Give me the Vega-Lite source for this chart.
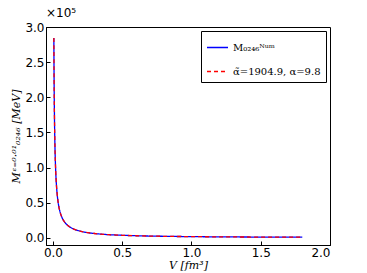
{
  "$schema": "https://vega.github.io/schema/vega-lite/v6.json",
  "width": 284,
  "height": 218,
  "autosize": {"type": "none"},
  "padding": {"left": 46, "top": 27, "right": 37, "bottom": 28},
  "background": "white",
  "title": {"text": "×10⁵", "anchor": "start", "frame": "group", "fontSize": 12, "font": "DejaVu Sans", "fontWeight": "normal", "offset": 1, "dx": 0},
  "data": {"values": [
    {"V": 0.0067, "num": 284300, "fit": 284300},
    {"V": 0.008, "num": 238100, "fit": 238100},
    {"V": 0.01, "num": 190500, "fit": 190500},
    {"V": 0.012, "num": 158750, "fit": 158750},
    {"V": 0.015, "num": 127000, "fit": 127000},
    {"V": 0.02, "num": 95250, "fit": 95250},
    {"V": 0.025, "num": 76200, "fit": 76200},
    {"V": 0.03, "num": 63500, "fit": 63500},
    {"V": 0.04, "num": 47600, "fit": 47600},
    {"V": 0.05, "num": 38100, "fit": 38100},
    {"V": 0.06, "num": 31750, "fit": 31750},
    {"V": 0.08, "num": 23800, "fit": 23800},
    {"V": 0.1, "num": 19050, "fit": 19050},
    {"V": 0.12, "num": 15870, "fit": 15870},
    {"V": 0.15, "num": 12700, "fit": 12700},
    {"V": 0.2, "num": 9525, "fit": 9525},
    {"V": 0.25, "num": 7620, "fit": 7620},
    {"V": 0.3, "num": 6350, "fit": 6350},
    {"V": 0.4, "num": 4760, "fit": 4760},
    {"V": 0.5, "num": 3810, "fit": 3810},
    {"V": 0.6, "num": 3175, "fit": 3175},
    {"V": 0.8, "num": 2380, "fit": 2380},
    {"V": 1.0, "num": 1905, "fit": 1905},
    {"V": 1.2, "num": 1590, "fit": 1590},
    {"V": 1.4, "num": 1360, "fit": 1360},
    {"V": 1.6, "num": 1190, "fit": 1190},
    {"V": 1.8, "num": 1060, "fit": 1060}
  ]},
  "transform": [{"fold": ["num", "fit"], "as": ["series", "M"]}],
  "mark": {"type": "line", "interpolate": "monotone", "strokeWidth": 1.3, "clip": true},
  "encoding": {
    "x": {"field": "V", "type": "quantitative",
      "scale": {"domain": [-0.05, 2.0], "nice": false, "zero": false},
      "axis": {"values": [0, 0.5, 1.0, 1.5, 2.0], "format": ".1f", "title": "V [fm³]", "grid": false}},
    "y": {"field": "M", "type": "quantitative",
      "scale": {"domain": [-10000, 300000], "nice": false, "zero": false},
      "axis": {"values": [0, 50000, 100000, 150000, 200000, 250000, 300000], "labelExpr": "format(datum.value/100000, '.1f')", "title": "Mᵋ⁼⁰·⁰¹₀₂₄₆ [MeV]", "grid": false}},
    "color": {"field": "series", "type": "nominal",
      "scale": {"domain": ["num", "fit"], "range": ["#0000ff", "#ff0000"]},
      "legend": {"labelExpr": "datum.value == 'num' ? 'M₀₂₄₆ᴺᵘᵐ' : 'α̃=1904.9, α=9.8'"}},
    "strokeDash": {"field": "series", "type": "nominal",
      "scale": {"domain": ["num", "fit"], "range": [[1, 0], [4, 3]]},
      "legend": {"labelExpr": "datum.value == 'num' ? 'M₀₂₄₆ᴺᵘᵐ' : 'α̃=1904.9, α=9.8'"}}
  },
  "config": {
    "view": {"stroke": "black", "strokeWidth": 1},
    "axis": {
      "domainColor": "black", "tickColor": "black", "tickSize": -4, "labelPadding": 6,
      "labelFont": "DejaVu Sans", "labelFontSize": 12, "labelColor": "black",
      "titleFont": "DejaVu Serif", "titleFontStyle": "italic", "titleFontWeight": "normal", "titleFontSize": 11, "titleColor": "black"
    },
    "axisX": {"titlePadding": 1},
    "axisY": {"titlePadding": 3},
    "legend": {
      "orient": "top-right", "offset": 4, "title": null, "padding": 5,
      "strokeColor": "black", "fillColor": "white",
      "symbolType": "stroke", "symbolSize": 441, "symbolStrokeWidth": 1.5,
      "labelFont": "DejaVu Serif", "labelFontSize": 10, "labelColor": "black", "rowPadding": 7, "cornerRadius": 0
    }
  }
}
